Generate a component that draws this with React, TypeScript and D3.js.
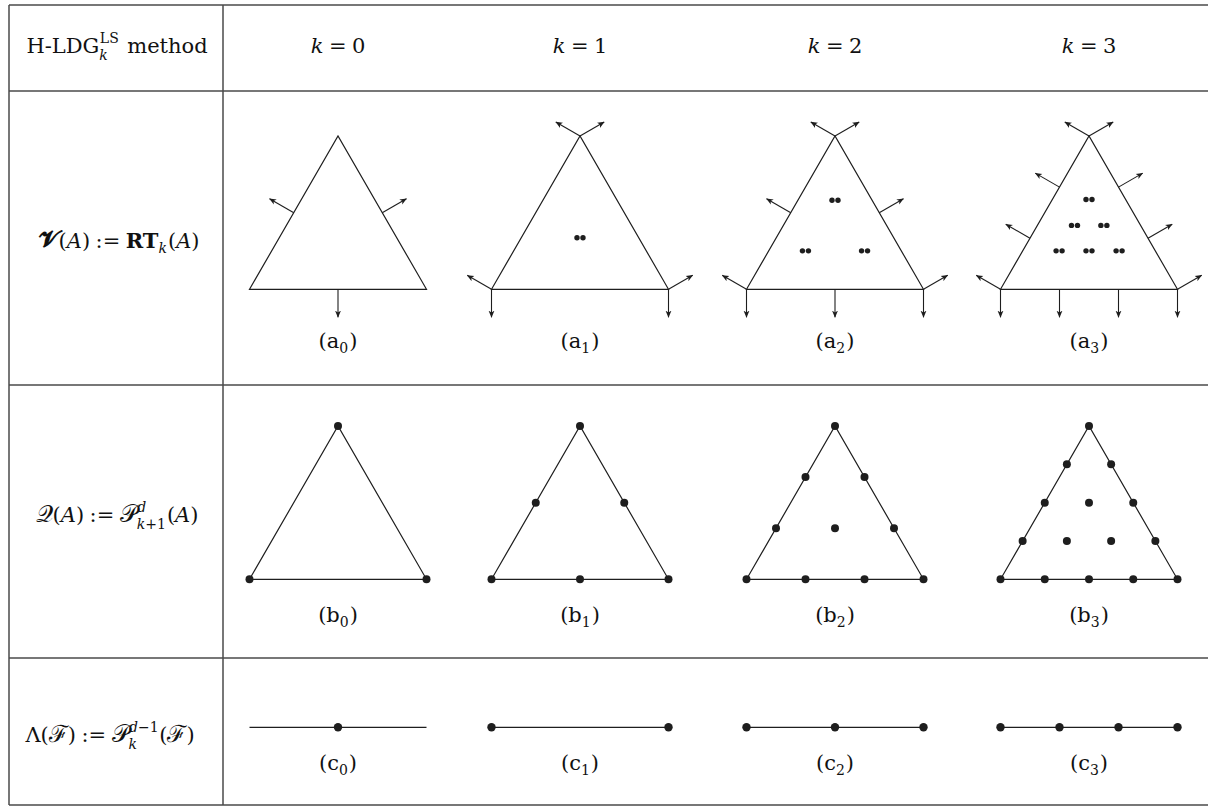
import React from 'react';
import * as d3 from 'd3';

// ---------- data ----------
const degrees = [0, 1, 2, 3];
const headerK = ['0', '1', '2', '3'];
// positions (fractions along an edge / the face segment) of the normal-flux DOFs for RT_k
const edgeNodes: number[][] = [[0.5], [0, 1], [0, 0.5, 1], [0, 1 / 3, 2 / 3, 1]];
// interior DOF pairs of RT_k as [fraction across base, fraction of height]
const interiorPairs: [number, number][][] = [
  [],
  [[0.5, 0.336]],
  [[0.333, 0.251], [0.667, 0.251], [0.5, 0.581]],
  [[0.331, 0.251], [0.5, 0.251], [0.67, 0.251], [0.418, 0.417], [0.584, 0.417], [0.5, 0.586]],
];
// polynomial order of Q(A) = P_{k+1}: lattice subdivisions
const qOrder = [1, 2, 3, 4];
// nodes of Lambda(F) = P_k on a face
const lambdaNodes: number[][] = [[0.5], [0, 1], [0, 0.5, 1], [0, 1 / 3, 2 / 3, 1]];
const rowLetters = ['a', 'b', 'c'];

// ---------- layout ----------
const W = 1208;
const H = 808;
const FONT = '"DejaVu Serif", "Liberation Serif", serif';
const FS = 21;
const SS = 14;
const hLines = [5, 91, 385, 658, 805];
const tableLeft = 9;
const col1Right = 223;
const labelCx = 116;
const colX = d3.scaleOrdinal<number, number>().domain(degrees).range([338, 580, 835, 1089]);
const SIDE = 177;
const TH = SIDE * Math.sqrt(3) / 2;
const baseA = 289.3;
const baseB = 579.3;
const lineC = 727.3;
const ARROW = 28;
const INK = '#1e1e1e';

type Face = 'rm' | 'it' | 'bf' | 'bfit';
type Piece = { t: string; f?: Face; sc?: number };
type Item = Piece | { sup?: Piece[]; sub?: Piece[] } | { sp: number };

const faceStyle = (f: Face = 'rm') => ({
  fontStyle: f === 'it' || f === 'bfit' ? 'italic' : 'normal',
  fontWeight: f === 'bf' || f === 'bfit' ? 'bold' : 'normal',
});

let ctx: CanvasRenderingContext2D | null = null;
function measure(t: string, size: number, f?: Face) {
  if (!ctx) ctx = document.createElement('canvas').getContext('2d');
  const s = faceStyle(f);
  ctx!.font = `${s.fontStyle} ${s.fontWeight} ${size}px ${FONT}`;
  return ctx!.measureText(t).width;
}

type Placed = { t: string; x: number; y: number; size: number; f?: Face };
function layoutMath(items: Item[], cx: number, base: number): Placed[] {
  const out: Placed[] = [];
  let x = 0;
  for (const it of items) {
    if ('sp' in it) { x += it.sp; continue; }
    if ('t' in it) {
      const size = FS * (it.sc || 1);
      out.push({ t: it.t, x, y: base, size, f: it.f });
      x += measure(it.t, size, it.f);
      continue;
    }
    const s = it as { sup?: Piece[]; sub?: Piece[] };
    let wSup = 0, wSub = 0;
    const subDy = s.sup ? 6.8 : 5;
    (s.sup || []).forEach(p => { out.push({ t: p.t, x: x + wSup + 0.5, y: base - 10.5, size: SS, f: p.f }); wSup += measure(p.t, SS, p.f); });
    (s.sub || []).forEach(p => { out.push({ t: p.t, x: x + wSub, y: base + subDy, size: SS, f: p.f }); wSub += measure(p.t, SS, p.f); });
    x += Math.max(wSup, wSub) + 1;
  }
  const shift = cx - x / 2;
  return out.map(p => ({ ...p, x: p.x + shift }));
}

function MathText({ items, cx, base }: { items: Item[]; cx: number; base: number }) {
  const placed = layoutMath(items, cx, base);
  return (
    <g>
      {placed.map((p, i) => (
        <text key={i} x={p.x} y={p.y} fontSize={p.size} fontFamily={FONT} fill="#111" {...faceStyle(p.f)}>{p.t}</text>
      ))}
    </g>
  );
}

const SC = 1.12;
const headerItems: Item[] = [{ t: 'H-LDG' }, { sup: [{ t: 'LS' }], sub: [{ t: 'k', f: 'it' }] }, { sp: 8 }, { t: 'method' }];
const rowAItems: Item[] = [
  { t: '𝓥', f: 'bf', sc: SC }, { t: '(' }, { t: 'A', f: 'it' }, { t: ')' }, { sp: 5.5 }, { t: ':=' }, { sp: 5.5 },
  { t: 'RT', f: 'bf' }, { sub: [{ t: 'k', f: 'it' }] }, { t: '(' }, { t: 'A', f: 'it' }, { t: ')' },
];
const rowBItems: Item[] = [
  { t: '𝒬', sc: SC }, { t: '(' }, { t: 'A', f: 'it' }, { t: ')' }, { sp: 5.5 }, { t: ':=' }, { sp: 5.5 },
  { t: '𝒫', sc: SC }, { sup: [{ t: 'd', f: 'it' }], sub: [{ t: 'k', f: 'it' }, { t: '+1' }] }, { t: '(' }, { t: 'A', f: 'it' }, { t: ')' },
];
const rowCItems: Item[] = [
  { t: 'Λ' }, { t: '(' }, { t: 'ℱ', sc: SC }, { t: ')' }, { sp: 5.5 }, { t: ':=' }, { sp: 5.5 },
  { t: '𝒫', sc: SC }, { sup: [{ t: 'd', f: 'it' }, { t: '−1' }], sub: [{ t: 'k', f: 'it' }] }, { t: '(' }, { t: 'ℱ', sc: SC }, { t: ')' },
];
const kItems = (n: string): Item[] => [{ t: 'k', f: 'it' }, { sp: 5.5 }, { t: '=' }, { sp: 5.5 }, { t: n }];
const subLabel = (letter: string, n: string): Item[] => [{ t: '(' }, { t: letter }, { sub: [{ t: n }] }, { t: ')' }];

type Pt = [number, number];
function triangle(cx: number, base: number) {
  const L: Pt = [cx - SIDE / 2, base];
  const R: Pt = [cx + SIDE / 2, base];
  const A: Pt = [cx, base - TH];
  return { L, R, A };
}
const lerp = (p: Pt, q: Pt, t: number): Pt => [p[0] + (q[0] - p[0]) * t, p[1] + (q[1] - p[1]) * t];
const lineGen = d3.line<Pt>();

function RTCell({ k }: { k: number }) {
  const cx = colX(k);
  const { L, R, A } = triangle(cx, baseA);
  const edges: { p: Pt; q: Pt; n: Pt }[] = [
    { p: L, q: R, n: [0, 1] },
    { p: L, q: A, n: [-Math.sqrt(3) / 2, -0.5] },
    { p: A, q: R, n: [Math.sqrt(3) / 2, -0.5] },
  ];
  const arrows: [Pt, Pt][] = [];
  edges.forEach(e => edgeNodes[k].forEach(t => {
    const s = lerp(e.p, e.q, t);
    arrows.push([s, [s[0] + e.n[0] * ARROW, s[1] + e.n[1] * ARROW]]);
  }));
  return (
    <g>
      <path d={lineGen([L, R, A])! + 'Z'} fill="none" stroke={INK} strokeWidth={1.2} strokeLinejoin="miter" />
      {arrows.map((a, i) => (
        <path key={i} d={lineGen(a)!} stroke={INK} strokeWidth={1.1} fill="none" markerEnd="url(#ah)" />
      ))}
      {interiorPairs[k].map(([u, v], i) => {
        const x = L[0] + u * SIDE;
        const y = baseA - v * TH;
        return (
          <g key={i}>
            <circle cx={x - 3} cy={y} r={2.7} fill={INK} />
            <circle cx={x + 3} cy={y} r={2.7} fill={INK} />
          </g>
        );
      })}
    </g>
  );
}

function QCell({ k }: { k: number }) {
  const cx = colX(k);
  const { L, R, A } = triangle(cx, baseB);
  const n = qOrder[k];
  const pts: Pt[] = [];
  for (let j = 0; j <= n; j++) {
    for (let i = 0; i <= n - j; i++) {
      const x = L[0] + (i + j / 2) * SIDE / n;
      const y = baseB - j * TH / n;
      pts.push([x, y]);
    }
  }
  return (
    <g>
      <path d={lineGen([L, R, A])! + 'Z'} fill="none" stroke={INK} strokeWidth={1.2} />
      {pts.map((p, i) => <circle key={i} cx={p[0]} cy={p[1]} r={4} fill={INK} />)}
    </g>
  );
}

function LambdaCell({ k }: { k: number }) {
  const cx = colX(k);
  const P: Pt = [cx - SIDE / 2, lineC];
  const Q: Pt = [cx + SIDE / 2, lineC];
  return (
    <g>
      <path d={lineGen([P, Q])!} stroke={INK} strokeWidth={1.2} />
      {lambdaNodes[k].map((t, i) => {
        const p = lerp(P, Q, t);
        return <circle key={i} cx={p[0]} cy={p[1]} r={4.2} fill={INK} />;
      })}
    </g>
  );
}

export default function App() {
  const subBase = [348, 622, 770];
  return (
    <svg width={W} height={H} viewBox={`0 0 ${W} ${H}`}
      style={{ position: 'fixed', left: 0, top: 0, background: '#fff' }}>
      <defs>
        <marker id="ah" viewBox="0 0 10 10" refX={9.5} refY={5} markerWidth={7} markerHeight={7}
          markerUnits="userSpaceOnUse" orient="auto">
          <path d="M0,0.8 L10,5 L0,9.2 L2.6,5 Z" fill={INK} />
        </marker>
      </defs>
      <rect x={0} y={0} width={W} height={H} fill="#fff" />
      {/* table rules */}
      <g stroke="#4a4a4a" strokeWidth={1.5}>
        {hLines.map((y, i) => <line key={i} x1={tableLeft} x2={W} y1={y} y2={y} />)}
        <line x1={tableLeft} x2={tableLeft} y1={hLines[0]} y2={hLines[4]} />
        <line x1={col1Right} x2={col1Right} y1={hLines[0]} y2={hLines[4]} />
      </g>
      {/* header */}
      <MathText items={headerItems} cx={labelCx + 1} base={53} />
      {degrees.map(k => <MathText key={k} items={kItems(headerK[k])} cx={colX(k)} base={53} />)}
      {/* row labels */}
      <MathText items={rowAItems} cx={labelCx + 3} base={248} />
      <MathText items={rowBItems} cx={labelCx + 1} base={522} />
      <MathText items={rowCItems} cx={labelCx - 6} base={742} />
      {/* cells */}
      {degrees.map(k => <RTCell key={'a' + k} k={k} />)}
      {degrees.map(k => <QCell key={'b' + k} k={k} />)}
      {degrees.map(k => <LambdaCell key={'c' + k} k={k} />)}
      {rowLetters.map((l, r) => degrees.map(k => (
        <MathText key={l + k} items={subLabel(l, headerK[k])} cx={colX(k)} base={subBase[r]} />
      )))}
    </svg>
  );
}
